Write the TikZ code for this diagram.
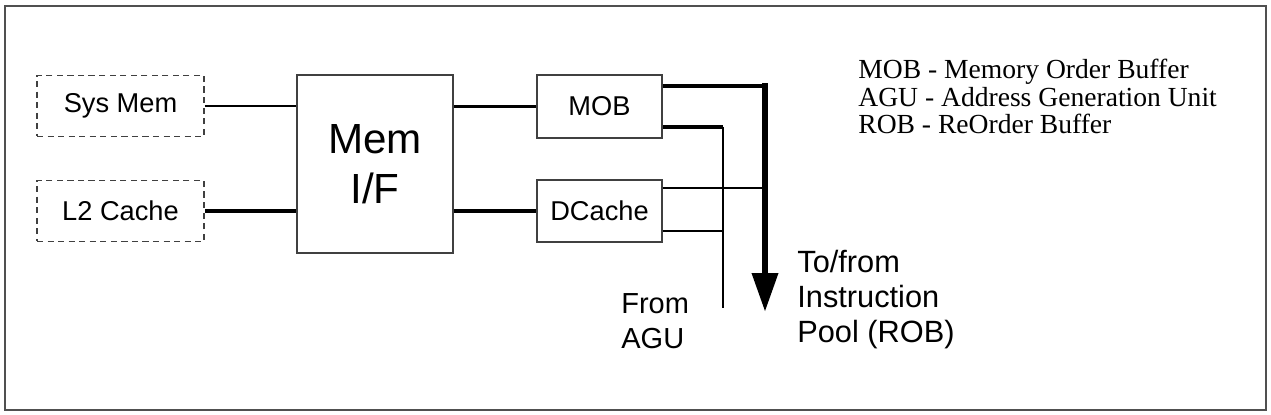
\documentclass[tikz,border=0pt]{standalone}
\usepackage{fontspec}
\setmainfont{Liberation Serif}
\setsansfont{Liberation Sans}
\usepackage{xcolor}
\usepackage{tikz}
\usetikzlibrary{arrows.meta}
\definecolor{FrameGray}{HTML}{505050}
\definecolor{EdgeGray}{HTML}{404040}

\begin{document}
\begin{tikzpicture}[
      x=0.02cm, y=-0.02cm,
      unit/.style = {rectangle, draw=EdgeGray, line width=1pt, inner sep=0pt,
        minimum width=2.5cm, minimum height=1.25cm,
        font=\sffamily\fontsize{15.5}{19}\selectfont},
      offchip/.style = {unit, dash pattern=on 3.5pt off 2.5pt,
        minimum width=3.34cm, minimum height=1.22cm},
      wire/.style = {line width=1.5pt},
      midwire/.style = {line width=1.9pt},
      heavywire/.style = {line width=2.6pt},
      aguwire/.style = {line width=0.9pt},
      bus/.style = {line width=3.8pt, line cap=rect,
        -{Triangle[length=0.78cm, width=0.5cm]}},
      note/.style = {inner sep=0pt, align=left,
        font=\sffamily\fontsize{16.5}{19.5}\selectfont}
    ]
    \useasboundingbox (0,0) rectangle (1271,415);
    \draw [FrameGray, line width=1.2pt] (5,6) rectangle (1266,410);

    % memory side
    \node (sysmem) [offchip] at (120.5,106) {Sys Mem};
    \node (ltwo) [offchip] at (120.5,211) {L2 Cache};
    \node (memif) [unit, minimum width=3.12cm, minimum height=3.56cm,
      align=center, font=\sffamily\fontsize{24}{28.5}\selectfont]
      at (375,164) {Mem\\I/F};
    \node (mob) [unit] at (599.5,106.5) {MOB};
    \node (dcache) [unit, minimum height=1.24cm] at (599.5,211) {DCache};

    % bus to the instruction pool and the AGU feed
    \coordinate (bustop) at (765,86);
    \coordinate (busjoin) at (765,188);
    \coordinate (bustip) at (765,312);
    \coordinate (agutop) at (723,127);
    \coordinate (agujoin) at (723,231);
    \coordinate (agufoot) at (723,308);

    \draw [wire] (sysmem.east) -- (sysmem.east -| memif.west);
    \draw [heavywire] (ltwo.east) -- (ltwo.east -| memif.west);
    \draw [wire] (mob.west -| memif.east) -- (mob.west);
    \draw [heavywire] (dcache.west -| memif.east) -- (dcache.west);
    \draw [midwire] (mob.east |- bustop) -- (bustop);
    \draw [bus] (bustop) -- (bustip);
    \draw [heavywire] (mob.east |- agutop) -- (agutop);
    \draw [aguwire] (agutop) -- (agufoot);
    \draw [wire] (dcache.east |- busjoin) -- (busjoin);
    \draw [wire] (dcache.east |- agujoin) -- (agujoin);

    % base of a multi-line node is its last line
    \node (agunote) [note, anchor=base west] at (621,348) {From\\AGU};
    \node (poolnote) [note, anchor=base west,
      font=\sffamily\fontsize{17.5}{19.8}\selectfont] at (797,342)
      {To/from\\Instruction\\Pool (ROB)};
    \node (legend) [inner sep=0pt, align=left, anchor=base west,
      font=\rmfamily\fontsize{15.7}{15.9}\selectfont] at (858,134)
      {MOB - Memory Order Buffer\\AGU - Address Generation Unit\\ROB - ReOrder Buffer};
  \end{tikzpicture}
\end{document}
